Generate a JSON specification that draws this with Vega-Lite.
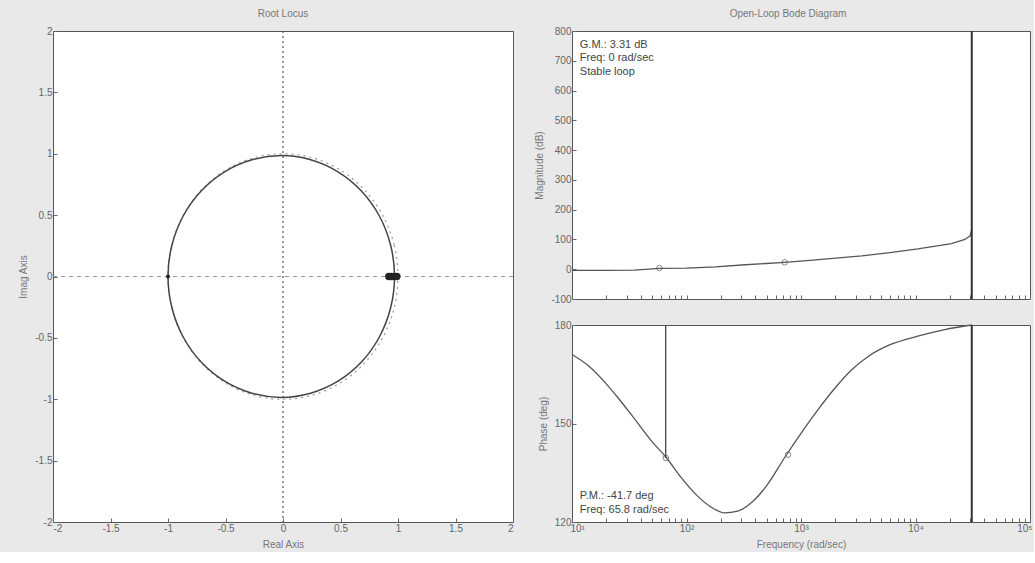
{
  "$schema": "https://vega.github.io/schema/vega-lite/v6.json",
  "background": "#e9e9e9",
  "padding": {"left": 18, "top": 8, "right": 1, "bottom": 2},
  "bounds": "flush",
  "spacing": 59,
  "config": {
    "font": "Liberation Sans",
    "view": {"fill": "white", "stroke": "#555", "strokeWidth": 1},
    "axis": {"domain": false, "grid": false, "tickSize": -4, "tickColor": "#666", "labelColor": "#666", "labelFontSize": 10, "titleColor": "#777", "titleFontSize": 10, "titleFontWeight": "normal", "labelPadding": 5, "titlePadding": 6, "labelOverlap": false},
    "title": {"fontSize": 10, "fontWeight": "normal", "color": "#777", "offset": 7}
  },
  "datasets": {
    "locus": [
      {"i": 0, "re": 0.970, "im": 0}, {"i": 1, "re": 0.936, "im": 0.255}, {"i": 2, "re": 0.838, "im": 0.493},
      {"i": 3, "re": 0.682, "im": 0.697}, {"i": 4, "re": 0.478, "im": 0.853}, {"i": 5, "re": 0.240, "im": 0.951},
      {"i": 6, "re": -0.015, "im": 0.985}, {"i": 7, "re": -0.270, "im": 0.951}, {"i": 8, "re": -0.508, "im": 0.853},
      {"i": 9, "re": -0.712, "im": 0.697}, {"i": 10, "re": -0.868, "im": 0.493}, {"i": 11, "re": -0.966, "im": 0.255},
      {"i": 12, "re": -1.000, "im": 0}, {"i": 13, "re": -0.966, "im": -0.255}, {"i": 14, "re": -0.868, "im": -0.493},
      {"i": 15, "re": -0.712, "im": -0.697}, {"i": 16, "re": -0.508, "im": -0.853}, {"i": 17, "re": -0.270, "im": -0.951},
      {"i": 18, "re": -0.015, "im": -0.985}, {"i": 19, "re": 0.240, "im": -0.951}, {"i": 20, "re": 0.478, "im": -0.853},
      {"i": 21, "re": 0.682, "im": -0.697}, {"i": 22, "re": 0.838, "im": -0.493}, {"i": 23, "re": 0.936, "im": -0.255}
    ],
    "unitCircle": [
      {"i": 0, "re": 1, "im": 0}, {"i": 1, "re": 0.966, "im": 0.259}, {"i": 2, "re": 0.866, "im": 0.5},
      {"i": 3, "re": 0.707, "im": 0.707}, {"i": 4, "re": 0.5, "im": 0.866}, {"i": 5, "re": 0.259, "im": 0.966},
      {"i": 6, "re": 0, "im": 1}, {"i": 7, "re": -0.259, "im": 0.966}, {"i": 8, "re": -0.5, "im": 0.866},
      {"i": 9, "re": -0.707, "im": 0.707}, {"i": 10, "re": -0.866, "im": 0.5}, {"i": 11, "re": -0.966, "im": 0.259},
      {"i": 12, "re": -1, "im": 0}, {"i": 13, "re": -0.966, "im": -0.259}, {"i": 14, "re": -0.866, "im": -0.5},
      {"i": 15, "re": -0.707, "im": -0.707}, {"i": 16, "re": -0.5, "im": -0.866}, {"i": 17, "re": -0.259, "im": -0.966},
      {"i": 18, "re": 0, "im": -1}, {"i": 19, "re": 0.259, "im": -0.966}, {"i": 20, "re": 0.5, "im": -0.866},
      {"i": 21, "re": 0.707, "im": -0.707}, {"i": 22, "re": 0.866, "im": -0.5}, {"i": 23, "re": 0.966, "im": -0.259}
    ],
    "poles": [
      {"re": 0.92, "im": 0, "kind": "cluster"}, {"re": 0.945, "im": 0, "kind": "cluster"},
      {"re": 0.97, "im": 0, "kind": "cluster"}, {"re": 0.99, "im": 0, "kind": "cluster"},
      {"re": -1.0, "im": 0, "kind": "single"}
    ],
    "origin": [{"v": 0}],
    "mag": [
      {"freq": 10, "db": -4}, {"freq": 20, "db": -4}, {"freq": 35, "db": -3}, {"freq": 58, "db": 3},
      {"freq": 100, "db": 4}, {"freq": 180, "db": 8}, {"freq": 325, "db": 15}, {"freq": 720, "db": 23},
      {"freq": 1200, "db": 30}, {"freq": 3400, "db": 45}, {"freq": 6000, "db": 56}, {"freq": 10500, "db": 68},
      {"freq": 20600, "db": 86}, {"freq": 27000, "db": 100}, {"freq": 30000, "db": 112}, {"freq": 31000, "db": 134}
    ],
    "magMarks": [{"freq": 58, "db": 4}, {"freq": 720, "db": 23}],
    "magText": [
      {"freq": 11.7, "db": 753, "label": "G.M.: 3.31 dB"},
      {"freq": 11.7, "db": 709, "label": "Freq: 0 rad/sec"},
      {"freq": 11.7, "db": 661, "label": "Stable loop"}
    ],
    "phase": [
      {"freq": 10, "deg": 171}, {"freq": 14, "deg": 167.5}, {"freq": 20, "deg": 162}, {"freq": 25, "deg": 158},
      {"freq": 35, "deg": 151.5}, {"freq": 50, "deg": 144.5}, {"freq": 66, "deg": 139.8}, {"freq": 90, "deg": 133.5},
      {"freq": 120, "deg": 128.5}, {"freq": 160, "deg": 124.8}, {"freq": 214, "deg": 122.8}, {"freq": 280, "deg": 123.3},
      {"freq": 372, "deg": 126}, {"freq": 500, "deg": 131}, {"freq": 725, "deg": 139.8}, {"freq": 1000, "deg": 147},
      {"freq": 1413, "deg": 154.3}, {"freq": 1950, "deg": 160.5}, {"freq": 2700, "deg": 166}, {"freq": 3890, "deg": 170.5},
      {"freq": 6000, "deg": 174}, {"freq": 10470, "deg": 176.6}, {"freq": 18000, "deg": 178.6}, {"freq": 31000, "deg": 180}
    ],
    "phaseMarks": [{"freq": 66, "deg": 139.5}, {"freq": 770, "deg": 140.5}],
    "pmLine": [{"freq": 65.8, "top": 180, "bottom": 139.5}],
    "limitLine": [{"freq": 31000}],
    "phaseText": [
      {"freq": 11.7, "deg": 127.9, "label": "P.M.: -41.7 deg"},
      {"freq": 11.7, "deg": 123.6, "label": "Freq: 65.8 rad/sec"}
    ]
  },
  "hconcat": [
    {
      "width": 460,
      "height": 491,
      "title": {"text": "Root Locus"},
      "layer": [
        {
          "data": {"name": "origin"},
          "mark": {"type": "rule", "color": "#999", "strokeDash": [4, 4], "strokeWidth": 1},
          "encoding": {"y": {"field": "v", "type": "quantitative", "scale": {"domain": [-2, 2], "nice": false, "zero": false}, "axis": {"title": "Imag Axis", "values": [-2, -1.5, -1, -0.5, 0, 0.5, 1, 1.5, 2], "tickCount": 60, "labelExpr": "'' + datum.value"}}}
        },
        {
          "data": {"name": "origin"},
          "mark": {"type": "rule", "color": "#333", "strokeDash": [2, 3], "strokeWidth": 1},
          "encoding": {"x": {"field": "v", "type": "quantitative", "scale": {"domain": [-2, 2], "nice": false, "zero": false}, "axis": {"title": "Real Axis", "values": [-2, -1.5, -1, -0.5, 0, 0.5, 1, 1.5, 2], "tickCount": 60, "labelExpr": "'' + datum.value"}}}
        },
        {
          "data": {"name": "unitCircle"},
          "mark": {"type": "line", "interpolate": "cardinal-closed", "color": "#999", "strokeDash": [2, 4], "strokeWidth": 1.2},
          "encoding": {
            "x": {"field": "re", "type": "quantitative"},
            "y": {"field": "im", "type": "quantitative"},
            "order": {"field": "i"}
          }
        },
        {
          "data": {"name": "locus"},
          "mark": {"type": "line", "interpolate": "cardinal-closed", "color": "#444", "strokeWidth": 1.5},
          "encoding": {
            "x": {"field": "re", "type": "quantitative"},
            "y": {"field": "im", "type": "quantitative"},
            "order": {"field": "i"}
          }
        },
        {
          "data": {"name": "poles"},
          "mark": {"type": "point", "filled": true, "color": "#222", "opacity": 1},
          "encoding": {
            "x": {"field": "re", "type": "quantitative"},
            "y": {"field": "im", "type": "quantitative"},
            "size": {"field": "kind", "type": "nominal", "scale": {"domain": ["cluster", "single"], "range": [55, 16]}, "legend": null}
          }
        }
      ]
    },
    {
      "vconcat": [
        {
          "width": 458,
          "height": 268,
          "title": {"text": "Open-Loop Bode Diagram", "dx": -13},
          "layer": [
            {
              "data": {"name": "mag"},
              "mark": {"type": "line", "color": "#555", "strokeWidth": 1.3},
              "encoding": {
                "x": {"field": "freq", "type": "quantitative", "scale": {"type": "log", "domain": [10, 100000], "nice": false}, "axis": {"title": null, "labels": false, "tickCount": 60, "values": [10,20,30,40,50,60,70,80,90,100,200,300,400,500,600,700,800,900,1000,2000,3000,4000,5000,6000,7000,8000,9000,10000,20000,30000,40000,50000,60000,70000,80000,90000,100000]}},
                "y": {"field": "db", "type": "quantitative", "scale": {"domain": [-100, 800], "nice": false, "zero": false}, "axis": {"title": "Magnitude (dB)", "values": [-100, 0, 100, 200, 300, 400, 500, 600, 700, 800], "tickCount": 60, "labelExpr": "'' + datum.value"}}
              }
            },
            {
              "data": {"name": "limitLine"},
              "mark": {"type": "rule", "color": "#333", "strokeWidth": 2},
              "encoding": {"x": {"field": "freq", "type": "quantitative"}}
            },
            {
              "data": {"name": "magMarks"},
              "mark": {"type": "point", "shape": "circle", "color": "#555", "size": 30, "strokeWidth": 1},
              "encoding": {"x": {"field": "freq", "type": "quantitative"}, "y": {"field": "db", "type": "quantitative"}}
            },
            {
              "data": {"name": "magText"},
              "mark": {"type": "text", "align": "left", "baseline": "middle", "fontSize": 11, "color": "#444"},
              "encoding": {"x": {"field": "freq", "type": "quantitative"}, "y": {"field": "db", "type": "quantitative"}, "text": {"field": "label"}}
            }
          ]
        },
        {
          "width": 458,
          "height": 197,
          "layer": [
            {
              "data": {"name": "phase"},
              "mark": {"type": "line", "color": "#555", "strokeWidth": 1.3, "interpolate": "monotone"},
              "encoding": {
                "x": {"field": "freq", "type": "quantitative", "scale": {"type": "log", "domain": [10, 100000], "nice": false}, "axis": {"title": "Frequency (rad/sec)", "tickCount": 60, "values": [10,20,30,40,50,60,70,80,90,100,200,300,400,500,600,700,800,900,1000,2000,3000,4000,5000,6000,7000,8000,9000,10000,20000,30000,40000,50000,60000,70000,80000,90000,100000], "labelExpr": "datum.value == 10 ? '10¹' : datum.value == 100 ? '10²' : datum.value == 1000 ? '10³' : datum.value == 10000 ? '10⁴' : datum.value == 100000 ? '10⁵' : ''", "labelFlush": true, "labelFlushOffset": 2}},
                "y": {"field": "deg", "type": "quantitative", "scale": {"domain": [120, 180], "nice": false, "zero": false}, "axis": {"title": "Phase (deg)", "values": [120, 150, 180], "tickCount": 60}}
              }
            },
            {
              "data": {"name": "limitLine"},
              "mark": {"type": "rule", "color": "#333", "strokeWidth": 2},
              "encoding": {"x": {"field": "freq", "type": "quantitative"}}
            },
            {
              "data": {"name": "pmLine"},
              "mark": {"type": "rule", "color": "#444", "strokeWidth": 1.3},
              "encoding": {"x": {"field": "freq", "type": "quantitative"}, "y": {"field": "top", "type": "quantitative"}, "y2": {"field": "bottom"}}
            },
            {
              "data": {"name": "phaseMarks"},
              "mark": {"type": "point", "shape": "circle", "color": "#555", "size": 30, "strokeWidth": 1},
              "encoding": {"x": {"field": "freq", "type": "quantitative"}, "y": {"field": "deg", "type": "quantitative"}}
            },
            {
              "data": {"name": "phaseText"},
              "mark": {"type": "text", "align": "left", "baseline": "middle", "fontSize": 11, "color": "#444"},
              "encoding": {"x": {"field": "freq", "type": "quantitative"}, "y": {"field": "deg", "type": "quantitative"}, "text": {"field": "label"}}
            }
          ]
        }
      ],
      "spacing": 26,
      "bounds": "flush"
    }
  ]
}
